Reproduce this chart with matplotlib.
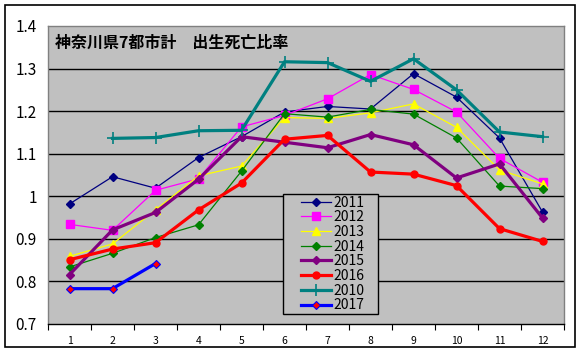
import matplotlib
matplotlib.use("Agg")
import matplotlib.pyplot as plt
from matplotlib.ticker import FixedLocator

plt.rcParams['font.family'] = ['Noto Sans CJK JP', 'DejaVu Sans']

months = list(range(1, 13))
tick_labels = [str(m) for m in months]
y_ticks = [0.7, 0.8, 0.9, 1.0, 1.1, 1.2, 1.3, 1.4]
y_tick_labels = ["0.7", "0.8", "0.9", "1", "1.1", "1.2", "1.3", "1.4"]

v2011 = [0.982, 1.046, 1.019, 1.091, 1.140, 1.198, 1.211, 1.205, 1.288, 1.233, 1.137, 0.963]
v2012 = [0.934, 0.920, 1.014, 1.041, 1.163, 1.190, 1.229, 1.286, 1.251, 1.198, 1.089, 1.033]
v2013 = [0.859, 0.888, 0.968, 1.048, 1.071, 1.185, 1.183, 1.196, 1.217, 1.162, 1.062, 1.029]
v2014 = [0.834, 0.866, 0.903, 0.933, 1.059, 1.194, 1.186, 1.204, 1.193, 1.137, 1.024, 1.018]
v2015 = [0.816, 0.921, 0.962, 1.040, 1.140, 1.127, 1.114, 1.145, 1.121, 1.043, 1.076, 0.949]
v2016 = [0.851, 0.876, 0.891, 0.968, 1.031, 1.134, 1.143, 1.057, 1.052, 1.025, 0.924, 0.894]
v2010_months = list(range(2, 13))
v2010 = [1.136, 1.138, 1.154, 1.155, 1.316, 1.314, 1.270, 1.323, 1.250, 1.151, 1.140]
v2017_months = [1, 2, 3]
v2017 = [0.783, 0.783, 0.842]

fig = plt.figure(figsize=(5.82, 3.54), dpi=100)
fig.patch.set_facecolor('white')
ax = fig.add_axes([48/582, 1-324/354, 516/582, 298/354])
ax.set_facecolor('#C0C0C0')

thin = 0.9
thick = 2.3
ax.plot(months, v2011, color='#000080', lw=thin, marker='D', ms=4.5, label='2011', zorder=3)
ax.plot(months, v2012, color='#FF00FF', lw=thin, marker='s', ms=5.5, label='2012', zorder=3)
ax.plot(months, v2013, color='#FFFF00', lw=thin, marker='^', ms=6, label='2013', zorder=3)
ax.plot(months, v2014, color='#008000', lw=thin, marker='D', ms=4.5, label='2014', zorder=3)
ax.plot(months, v2015, color='#800080', lw=thick, marker='D', ms=4.5, label='2015', zorder=3)
ax.plot(months, v2016, color='#FF0000', lw=thick, marker='o', ms=5, label='2016', zorder=3)
ax.plot(v2010_months, v2010, color='#008080', lw=thick, marker='+', ms=8, mew=1.2, label='2010', zorder=3)
ax.plot(v2017_months, v2017, color='#0000FF', lw=thick, marker='D', ms=4.5,
        mfc='#FF0000', mec='#0000FF', mew=0.8, label='2017', zorder=3)

ax.set_xlim(0.5, 12.5)
ax.set_ylim(0.7, 1.4)

ax.set_xticks(months)
ax.set_xticklabels(tick_labels, fontsize=7.5)
ax.xaxis.set_minor_locator(FixedLocator([k + 0.5 for k in range(0, 13)]))
ax.tick_params(axis='x', which='major', length=0, pad=9)
ax.tick_params(axis='x', which='minor', length=4, width=0.8, color='black', direction='out')

ax.set_yticks(y_ticks)
ax.set_yticklabels(y_tick_labels, fontsize=11)
ax.tick_params(axis='y', length=0, pad=8)

for y in y_ticks[1:-1]:
    ax.axhline(y, color='black', lw=1.0, zorder=1)

for s in ['left', 'top', 'right']:
    ax.spines[s].set_color('#808080')
    ax.spines[s].set_linewidth(1.0)
ax.spines['bottom'].set_color('black')
ax.spines['bottom'].set_linewidth(1.0)

ax.text(0.0136, 0.943, '神奈川県7都市計　出生死亡比率', transform=ax.transAxes,
        fontsize=11.5, fontweight='bold', ha='left', va='center', zorder=5)

# legend box drawn manually
box = plt.Rectangle((282.5/582, 1-313.5/354), 95/582, 119.5/354,
                    transform=fig.transFigure, facecolor='#C0C0C0',
                    edgecolor='black', lw=1.0, zorder=5)
fig.add_artist(box)

leg = ax.legend(loc='upper left', bbox_to_anchor=(301/582, 1-195.5/354),
                bbox_transform=fig.transFigure, borderaxespad=0,
                fontsize=10, labelspacing=0.05, handlelength=2.15, handletextpad=0.2,
                borderpad=0.0, frameon=False)

# draw legend at figure level above the box
leg.remove()
fig.legends.append(leg)
leg.set_figure(fig)
leg.set_zorder(6)

# outer frame
fig.add_artist(plt.Rectangle((5/582, 1-347/354), 570/582, 342/354,
                             transform=fig.transFigure, fill=False,
                             edgecolor='black', lw=1.2))

fig.savefig('out.png', dpi=100)
